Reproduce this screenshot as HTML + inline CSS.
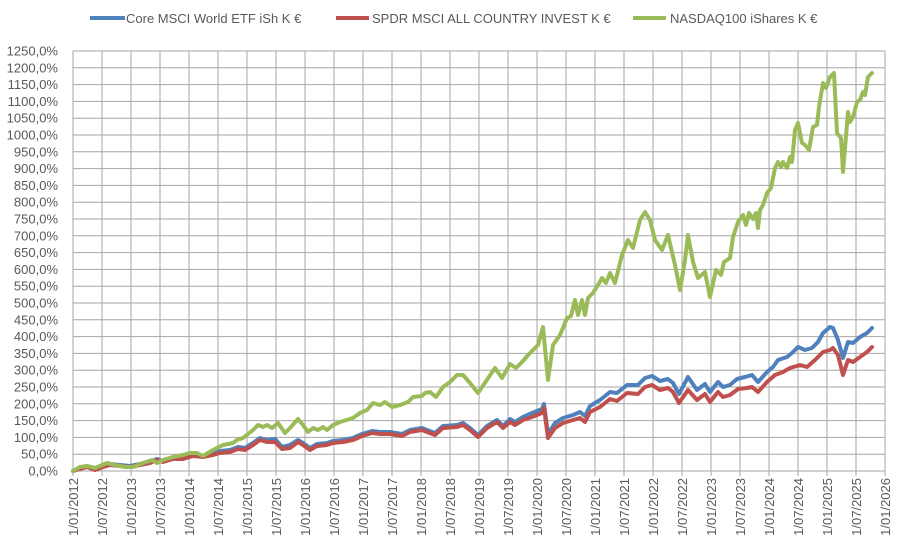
<!DOCTYPE html>
<html><head><meta charset="utf-8"><style>
body{margin:0;background:#fff}
svg{display:block}
text{font-family:"Liberation Sans",sans-serif;fill:#595959}
</style></head><body>
<svg width="898" height="557" viewBox="0 0 898 557" xmlns="http://www.w3.org/2000/svg">
<rect width="898" height="557" fill="#fff"/>
<g id="grid" stroke="#a6a6a6" stroke-width="1"></g>
<g id="ylab" font-size="13" text-anchor="end"></g>
<g id="xlab" font-size="13" text-anchor="end"></g>
<g fill="none" stroke-width="4" stroke-linejoin="round" stroke-linecap="round">
<polyline stroke="#4f81bd" points="73,471 80,468 87,466 95,469 103,466 110,464 120,465 130,466 140,464 150,462 157,459 163,461 173,458 183,458 193,455 203,456 213,453 220,451 230,450 238,447 245,448 253,443 260,438 267,440 275,439 282,447 290,445 298,440 303,443 310,448 317,444 327,443 333,441 343,440 353,438 362,434 372,431 380,432 390,432 402,434 410,430 422,428 427,430 435,433 443,426 457,425 463,423 470,428 478,435 487,426 497,420 503,426 510,419 515,422 523,417 532,413 542,409 544,404 548,434 555,423 563,418 573,415 580,412 585,416 590,406 600,400 610,392 617,393 627,385 638,385 645,378 652,376 660,381 668,379 673,383 679,394 688,377 697,390 705,384 710,392 718,382 723,387 730,385 737,379 745,377 752,375 758,382 767,372 773,367 778,360 787,357 792,353 798,347 805,350 812,348 818,342 823,333 830,327 833,328 838,340 843,358 848,342 853,343 860,337 867,333 872,328"/>
<polyline stroke="#c0504d" points="73,471 80,469 87,467 95,470 103,467 110,465 120,466 130,467 140,465 150,463 157,460 163,462 173,459 183,459 193,456 203,457 213,455 220,453 230,452 238,449 245,450 253,445 260,440 267,442 275,442 282,449 290,448 298,442 303,445 310,450 317,446 327,445 333,443 343,442 353,440 362,436 372,433 380,434 390,434 402,436 410,432 422,430 427,432 435,435 443,428 457,427 463,425 470,430 478,437 487,428 497,422 503,428 510,422 515,425 523,420 532,417 542,413 544,408 548,438 555,428 563,423 573,420 580,418 585,422 590,412 600,407 610,399 617,401 627,393 638,394 645,387 652,385 660,390 668,388 673,392 679,403 688,390 697,400 705,394 710,402 718,392 723,397 730,395 738,389 747,388 752,387 758,392 767,382 775,375 783,372 790,368 800,365 807,367 815,360 823,352 830,350 833,348 838,355 843,375 848,360 853,362 860,357 867,352 872,347"/>
<polyline stroke="#9bbb59" points="73,471 80,467 87,466 95,468 107,463 115,465 125,467 133,467 143,463 152,460 157,463 163,460 173,457 183,455 190,453 197,453 203,456 213,450 223,445 233,443 237,440 243,438 253,430 258,425 263,427 267,425 272,428 278,423 285,433 290,428 298,419 303,425 308,432 313,428 318,430 323,427 327,430 333,425 340,422 353,418 360,413 367,410 373,403 380,405 385,402 392,407 400,405 408,402 413,397 422,396 425,393 430,392 436,397 443,387 450,382 457,375 463,375 470,383 478,393 495,368 502,378 510,364 516,368 522,362 530,353 538,345 543,327 548,380 553,345 560,335 567,318 571,316 575,300 578,315 582,300 585,315 588,298 593,293 598,285 602,278 606,283 610,273 615,283 622,255 628,240 633,248 640,220 645,212 650,220 655,240 662,250 668,235 675,265 680,290 685,260 688,235 693,262 698,278 705,272 710,297 716,270 721,275 724,262 730,258 733,237 738,222 743,215 746,225 749,213 753,219 756,213 758,228 760,210 763,205 767,193 771,188 775,168 778,162 781,167 783,162 787,168 790,157 792,162 795,130 798,123 802,143 805,145 809,150 813,127 817,125 819,107 823,83 826,88 830,77 834,73 837,133 841,138 843,172 848,112 850,122 853,117 857,102 860,100 863,92 865,95 868,77 872,73"/>
</g>
<g font-size="13">
<line x1="90" y1="18" x2="125" y2="18" stroke="#4f81bd" stroke-width="4"/>
<text x="126" y="23">Core MSCI World ETF iSh K €</text>
<line x1="336" y1="18" x2="369" y2="18" stroke="#c0504d" stroke-width="4"/>
<text x="372" y="23">SPDR MSCI ALL COUNTRY INVEST K €</text>
<line x1="633" y1="18" x2="666" y2="18" stroke="#9bbb59" stroke-width="4"/>
<text x="670" y="23">NASDAQ100 iShares K €</text>
</g>
<script>
(function(){
var ns="http://www.w3.org/2000/svg";
var g=document.getElementById("grid"),yl=document.getElementById("ylab"),xl=document.getElementById("xlab");
for(var i=0;i<=25;i++){var y=471-i*16.8;
var l=document.createElementNS(ns,"line");l.setAttribute("x1",73);l.setAttribute("x2",885);l.setAttribute("y1",y);l.setAttribute("y2",y);g.appendChild(l);
var t=document.createElementNS(ns,"text");t.setAttribute("x",58);t.setAttribute("y",y+4.5);t.textContent=(i*50)+",0%";yl.appendChild(t);}
for(var j=0;j<=28;j++){var x=73+j*29;
var l2=document.createElementNS(ns,"line");l2.setAttribute("x1",x);l2.setAttribute("x2",x);l2.setAttribute("y1",51);l2.setAttribute("y2",476);g.appendChild(l2);
var yr=2012+Math.floor(j/2);var s=(j%2?"1/07/":"1/01/")+yr;
var t2=document.createElementNS(ns,"text");t2.setAttribute("transform","translate("+(x+5)+",478) rotate(-90)");t2.textContent=s;xl.appendChild(t2);}
})();
</script>
</svg>
</body></html>
